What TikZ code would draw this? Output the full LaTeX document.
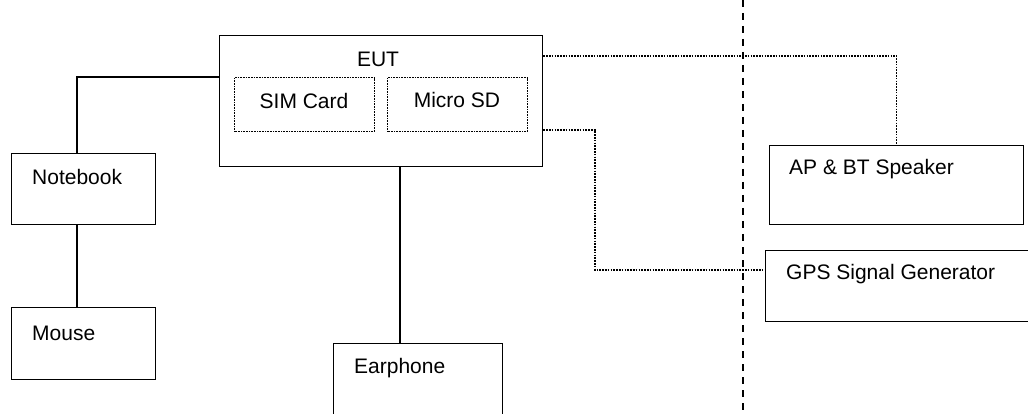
\documentclass[tikz,border=0pt]{standalone}
\usepackage{fontspec}
\setmainfont{Liberation Sans}
\begin{document}
\begin{tikzpicture}[x=1pt,y=-1pt,
  box/.style={draw, line width=1.3pt, inner sep=0pt, anchor=north west},
  inbox/.style={draw, line width=1.2pt, dash pattern=on 1pt off 0.6pt, inner sep=0pt, anchor=north west},
  lbl/.style={inner sep=0pt, font=\fontsize{21}{25}\selectfont},
  wire/.style={line width=1.2pt},
  dotwire/.style={line width=1.3pt, dash pattern=on 1.6pt off 1.2pt},
  divider/.style={line width=1.6pt, dash pattern=on 7pt off 6pt}]
\useasboundingbox (0,0) rectangle (1028,414);
\clip (0,0) rectangle (1028,414);
% boxes
\node[box, minimum width=323pt, minimum height=131pt] (eut) at (219,35) {};
\node[inbox, minimum width=140pt, minimum height=54pt] (sim) at (234,77) {};
\node[inbox, minimum width=140pt, minimum height=54pt] (sd) at (387,77) {};
\node[box, minimum width=144pt, minimum height=71pt] (nb) at (11,153) {};
\node[box, minimum width=144pt, minimum height=72pt] (mouse) at (11,307) {};
\node[box, minimum width=169pt, minimum height=90pt] (ear) at (333,343) {};
\node[box, minimum width=254pt, minimum height=79pt] (ap) at (769,145) {};
\node[box, minimum width=280pt, minimum height=71pt] (gps) at (765,250) {};
% labels
\node[lbl] (eutl) at (378,59) {EUT};
\node[lbl] (siml) at (304,101) {SIM Card};
\node[lbl] (sdl) at (457,100) {Micro SD};
\node[lbl, anchor=west] (nbl) at (32,177) {Notebook};
\node[lbl, anchor=west] (mousel) at (32,333) {Mouse};
\node[lbl, anchor=west] (earl) at (354,368) {Earphone};
\node[lbl, anchor=west] (apl) at (789,169) {AP \& BT Speaker};
\node[lbl, anchor=west] (gpsl) at (786,274) {GPS Signal Generator};
% helper coordinates
\coordinate (nbx) at (77,0);
\coordinate (earx) at (400,0);
\coordinate (d1) at (0,56);
\coordinate (d2x) at (595,130);
\coordinate (d2y) at (0,270);
\coordinate (divtop) at (743,0);
\coordinate (divbot) at (743,414);
% connectors
\draw[wire] (nb.north -| nbx) |- (eut.west |- sim.north);
\draw[wire] (nb.south -| nbx) -- (mouse.north -| nbx);
\draw[wire] (eut.south -| earx) -- (ear.north -| earx);
\draw[dotwire] (eut.east |- d1) -| (ap.north);
\draw[dotwire] (eut.east |- d2x) -- (d2x) |- (gps.west |- d2y);
\draw[divider] (divtop) -- (divbot);
\end{tikzpicture}
\end{document}
